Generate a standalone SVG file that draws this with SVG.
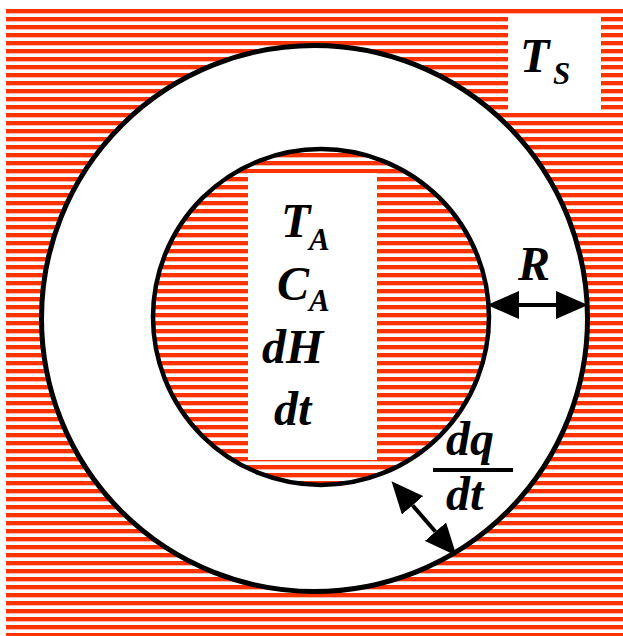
<svg xmlns="http://www.w3.org/2000/svg" width="623" height="636" viewBox="0 0 623 636">
<style>
.t{font-family:"Liberation Serif","Times New Roman",serif;font-weight:bold;font-style:italic;fill:#000}
.big{font-size:48px}
.sub{font-size:31px}
.arr{stroke:#000;stroke-width:4;fill:none}
</style>
<defs>
<pattern id="stripes" patternUnits="userSpaceOnUse" x="0" y="0" width="8" height="8">
<rect x="0" y="0" width="8" height="8" fill="#fff"/>
<rect x="0" y="1" width="8" height="4" fill="#ff3300"/>
<rect x="0" y="5" width="8" height="1" fill="#ffb8a8"/>
</pattern>
<marker id="head" viewBox="0 -14 32 28" markerUnits="userSpaceOnUse" markerWidth="32" markerHeight="28" refX="0" refY="0" orient="auto-start-reverse">
<path d="M0,-14 L32,0 L0,14 Z" fill="#000"/>
</marker>
</defs>
<rect width="623" height="636" fill="#fff"/>
<rect x="6" y="8" width="617" height="628" fill="url(#stripes)"/>
<g id="ts-box">
<rect x="508" y="14" width="93" height="98" fill="#fff"/>
<text class="t big" x="520" y="72">T</text>
<text class="t sub" x="553" y="84">S</text>
</g>
<g id="outer-ring">
<circle cx="314.5" cy="318.5" r="273" fill="#fff" stroke="#000" stroke-width="5"/>
</g>
<g id="inner-core">
<circle cx="321" cy="317" r="168" fill="url(#stripes)" stroke="#000" stroke-width="4.5"/>
<rect x="248" y="173" width="129" height="287" fill="#fff"/>
<text class="t big" x="281" y="237">T</text>
<text class="t sub" x="309" y="250">A</text>
<text class="t big" x="277" y="300">C</text>
<text class="t sub" x="309" y="311">A</text>
<text class="t big" x="262" y="363">dH</text>
<text class="t big" x="274" y="425">dt</text>
</g>
<g id="labels">
<text class="t big" x="518" y="280">R</text>
<text class="t big" x="446" y="455">dq</text>
<text class="t big" x="446" y="510">dt</text>
<line x1="433" y1="470" x2="513" y2="470" stroke="#000" stroke-width="4"/>
</g>
<g id="connectors">
<line class="arr" x1="519" y1="305" x2="556" y2="305" marker-start="url(#head)" marker-end="url(#head)"/>
<line class="arr" x1="412.5" y1="505.3" x2="435.5" y2="531.7" marker-start="url(#head)" marker-end="url(#head)"/>
</g>
</svg>
